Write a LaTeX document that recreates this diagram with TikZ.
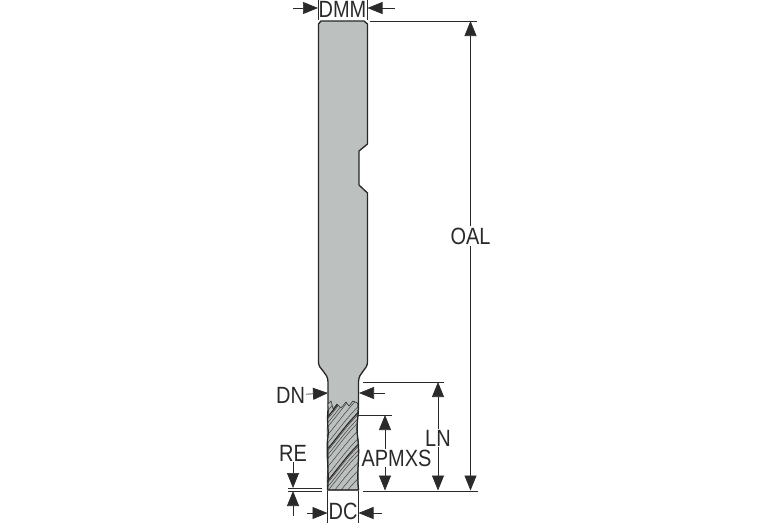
\documentclass[tikz,border=0pt]{standalone}
\usepackage{fontspec}
\setmainfont[FakeStretch=0.85]{Liberation Sans}
\usetikzlibrary{arrows.meta}
\definecolor{toolgray}{HTML}{BCC1BF}
\definecolor{inkline}{HTML}{2A2A2A}
\newcommand{\flutepath}{(328,404) -- (331,401) -- (333,409) -- (337,404) -- (341,408) -- (346,402) -- (349,406) -- (353,401) -- (357.5,403)
    .. controls (359,415) and (355.5,425) .. (358,440)
    .. controls (360,455) and (356.5,470) .. (358.5,490) -- (327.5,490)
    .. controls (326,475) and (330,455) .. (327.5,440) .. controls (326,425) and (329.5,415) .. (328,404) -- cycle}
\tikzset{
  dimline/.style={line width=0.7pt,inkline},
  dimarrow/.style={dimline,-{Triangle[length=15pt,width=12pt]}},
  dimlabel/.style={inner sep=1pt,font=\fontsize{23.5}{24}\selectfont,text=inkline},
  toolline/.style={line width=1.3pt,black!85,line join=round},
  fluteline/.style={line width=0.5pt,black!75}
}
\begin{document}
\begin{tikzpicture}[x=1pt,y=-1pt]
\useasboundingbox (0,0) rectangle (767,523);

  % shank and neck
  \draw[toolline,fill=toolgray] (321,21) -- (364,21) -- (367.5,24) -- (367.5,144) -- (359,151)
    -- (359,185) -- (367.5,193) -- (367.5,362) .. controls (367.5,370) and (358.5,372) .. (358.5,382)
    -- (358.5,410) -- (328,410) -- (328,382) .. controls (328,372) and (318.5,370) .. (318.5,362)
    -- (318.5,24) -- cycle;
  % fluted part
  \fill[toolgray] \flutepath;
  \begin{scope}
    \clip \flutepath;
    \foreach \shift in {0,8,...,128}
      \draw[fluteline] (322,{393+\shift}) .. controls (335,{380+\shift}) and (345,{362+\shift}) .. (364,{345+\shift});
    \foreach \shift in {4,36,68,100}
      \draw[fluteline] (322,{393+\shift}) .. controls (335,{380+\shift}) and (345,{362+\shift}) .. (364,{345+\shift});
    \foreach \shift in {30,62,94}
      \draw[line width=1.1pt,black!85] (322,{393+\shift}) .. controls (335,{380+\shift}) and (345,{362+\shift}) .. (364,{345+\shift});
  \end{scope}
  \draw[line width=0.6pt,black!80,line join=round] \flutepath;
  \draw[toolline] (328,410) .. controls (326.5,425) and (329.5,430) .. (327.5,440)
    .. controls (326,455) and (329.5,470) .. (327.5,490) -- (358.5,490)
    .. controls (356.5,470) and (360,455) .. (358,440) .. controls (355.5,425) and (359,415) .. (358,410);

  % labels
  \node[dimlabel] (dmm) at (342.5,9.5) {DMM};
  \node[dimlabel] (oal) at (470.5,236) {OAL};
  \node[dimlabel] (dn) at (290.5,395) {DN};
  \node[dimlabel] (ln) at (438,438) {LN};
  \node[dimlabel,fill=white,inner sep=0pt] (apmxs) at (396.5,458) {APMXS};
  \node[dimlabel] (re) at (293,453) {RE};
  \node[dimlabel] (dc) at (343,511.5) {DC};

  % end points of the dimension lines
  \coordinate (dmmL) at (318,8);
  \coordinate (dmmR) at (367.5,8);
  \coordinate (dmmLfree) at (293,8);
  \coordinate (dmmRfree) at (395,8);
  \coordinate (topA) at (370,21);
  \coordinate (topB) at (477,21);
  \coordinate (oalTop) at (470.5,21);
  \coordinate (oalBot) at (470.5,490.5);
  \coordinate (neckA) at (363,382);
  \coordinate (neckB) at (444,382);
  \coordinate (lnTop) at (438,382);
  \coordinate (lnBot) at (438,490.5);
  \coordinate (fluteA) at (358,415);
  \coordinate (fluteB) at (392,415);
  \coordinate (apTop) at (385,415);
  \coordinate (apBot) at (385,490.5);
  \coordinate (botA) at (363,491);
  \coordinate (botB) at (478,491);
  \coordinate (dnArrL) at (328,393);
  \coordinate (dnArrR) at (359,393);
  \coordinate (dnFree) at (385,393);
  \coordinate (reA) at (288,488);
  \coordinate (reB) at (322,488);
  \coordinate (reC) at (288,491);
  \coordinate (reD) at (322,491);
  \coordinate (reUp) at (293,488);
  \coordinate (reDown) at (293,491);
  \coordinate (reFree) at (293,516);
  \coordinate (dcL) at (327.5,513);
  \coordinate (dcR) at (358.5,513);
  \coordinate (dcLfree) at (307,513);
  \coordinate (dcRfree) at (382,513);

  % extension lines
  \draw[dimline] (318,0) -- (318,20);
  \draw[dimline] (367.5,0) -- (367.5,20);
  \draw[dimline] (topA) -- (topB);
  \draw[dimline] (neckA) -- (neckB);
  \draw[dimline] (fluteA) -- (fluteB);
  \draw[dimline] (botA) -- (botB);
  \draw[dimline] (reA) -- (reB);
  \draw[dimline] (reC) -- (reD);
  \draw[dimline] (327.5,491) -- (327.5,523);
  \draw[dimline] (358.5,491) -- (358.5,523);

  % arrows
  \draw[dimarrow] (dmmLfree) -- (dmmL);
  \draw[dimarrow] (dmmRfree) -- (dmmR);
  \draw[dimarrow] (oal) -- (oalTop);
  \draw[dimarrow] (oal) -- (oalBot);
  \draw[dimarrow] (ln) -- (lnTop);
  \draw[dimarrow] (ln) -- (lnBot);
  \draw[dimarrow] (apmxs.north -| apTop) -- (apTop);
  \draw[dimarrow] (apmxs.south -| apBot) -- (apBot);
  \draw[dimarrow] (dn) -- (dnArrL);
  \draw[dimarrow] (dnFree) -- (dnArrR);
  \draw[dimarrow] (re) -- (reUp);
  \draw[dimarrow] (reFree) -- (reDown);
  \draw[dimarrow] (dcLfree) -- (dcL);
  \draw[dimarrow] (dcRfree) -- (dcR);
\end{tikzpicture}
\end{document}
